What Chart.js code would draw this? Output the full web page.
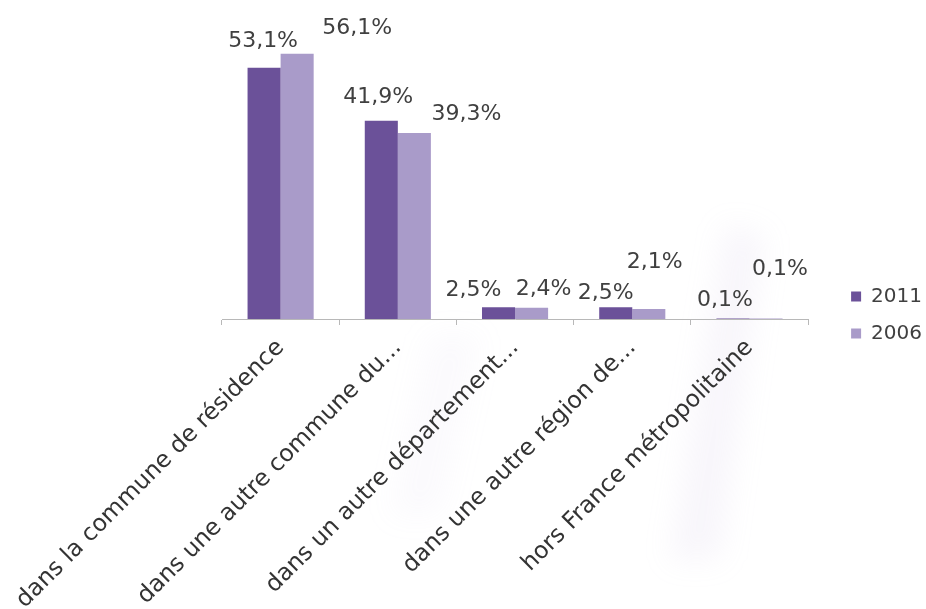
<!DOCTYPE html>
<html>
<head>
<meta charset="utf-8">
<script src="https://cdn.jsdelivr.net/npm/chart.js@4.4.1/dist/chart.umd.min.js"></script>
<style>
  html, body { margin: 0; padding: 0; background: #fff; }
  #wrap { width: 926px; height: 609px; position: relative; }
</style>
</head>
<body>
<div id="wrap"><canvas id="chart"></canvas></div>
<script>
const categories = [
  'dans la commune de résidence',
  'dans une autre commune du...',
  'dans un autre département...',
  'dans une autre région de...',
  'hors France métropolitaine'
];
const seriesNames = ['2011', '2006'];
const values2011 = [53.1, 41.9, 2.5, 2.5, 0.1];
const values2006 = [56.1, 39.3, 2.4, 2.1, 0.1];

const FONT = '"DejaVu Sans", sans-serif';

// hand placement of the value labels, [dx, dy] from the top centre of each bar
const labelNudge = [
  [[-1, 27], [-3, 24], [-25, 17], [-10, 14], [-8, 18]],
  [[60, 25], [52, 19], [12, 18], [6, 47], [14, 49]]
];

const valueLabels = {
  id: 'valueLabels',
  afterDatasetsDraw(chart) {
    const ctx = chart.ctx;
    ctx.save();
    ctx.font = '22px ' + FONT;
    ctx.fillStyle = '#404040';
    ctx.textAlign = 'center';
    ctx.textBaseline = 'middle';
    chart.data.datasets.forEach((ds, i) => {
      chart.getDatasetMeta(i).data.forEach((bar, j) => {
        const n = labelNudge[i][j];
        const txt = ds.data[j].toFixed(1).replace('.', ',') + '%';
        ctx.fillText(txt, bar.x + n[0], bar.y - n[1]);
      });
    });
    ctx.restore();
  }
};

// very faint lilac swaths behind the plot
const backdrop = {
  id: 'backdrop',
  beforeDraw(chart) {
    const ctx = chart.ctx;
    ctx.save();
    ctx.fillStyle = '#fff';
    ctx.fillRect(0, 0, chart.width, chart.height);
    ctx.filter = 'blur(14px)';
    ctx.fillStyle = 'rgba(200,185,225,0.12)';
    ctx.beginPath();
    ctx.moveTo(725, 225); ctx.lineTo(765, 235); ctx.lineTo(720, 560); ctx.lineTo(670, 560);
    ctx.closePath(); ctx.fill();
    ctx.fillStyle = 'rgba(200,185,225,0.07)';
    ctx.beginPath();
    ctx.moveTo(430, 335); ctx.lineTo(480, 335); ctx.lineTo(440, 515); ctx.lineTo(390, 515);
    ctx.closePath(); ctx.fill();
    ctx.restore();
  }
};

new Chart(document.getElementById('chart'), {
  type: 'bar',
  data: {
    labels: categories,
    datasets: [
      { label: seriesNames[0], data: values2011, backgroundColor: '#6b5199' },
      { label: seriesNames[1], data: values2006, backgroundColor: '#a99bc9' }
    ]
  },
  options: {
    responsive: true,
    maintainAspectRatio: false,
    animation: false,
    layout: { padding: { top: 21, right: -6, bottom: 0, left: 222 } },
    datasets: { bar: { categoryPercentage: 0.564, barPercentage: 1.0 } },
    scales: {
      x: {
        ticks: {
          font: { family: FONT, size: 23.5 },
          color: '#333',
          minRotation: 45,
          maxRotation: 45,
          autoSkip: false,
          padding: 9
        },
        grid: { drawOnChartArea: false, color: '#b8b8b8', tickLength: 6, offset: true },
        border: { color: '#b8b8b8' },
        afterFit(scale) {
          scale.height = 290;
          // the long first label may run out to the left margin
          scale.paddingLeft = 0;
        }
      },
      y: {
        display: false,
        min: 0,
        max: 63
      },
      // empty axis used only as a gap between the plot and the legend
      gap: {
        type: 'linear',
        position: 'right',
        ticks: { display: false },
        grid: { display: false },
        border: { display: false },
        afterFit(scale) { scale.width = 26; }
      }
    },
    plugins: {
      legend: {
        position: 'right',
        labels: {
          font: { family: FONT, size: 20 },
          color: '#404040',
          boxWidth: 10,
          boxHeight: 10,
          padding: 17
        }
      },
      tooltip: { enabled: false }
    }
  },
  plugins: [backdrop, valueLabels]
});
</script>
</body>
</html>
